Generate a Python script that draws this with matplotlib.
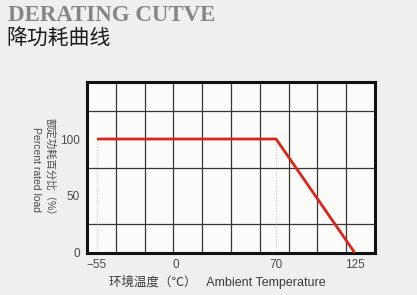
import numpy as np
import matplotlib
matplotlib.use("Agg")
import matplotlib.pyplot as plt

# derating curve data
temps = [-55, 70, 125]
load = [100, 100, 0]
x_ticks = [-55, 0, 70, 125]
y_ticks = [0, 50, 100]
x_lim = (-62, 139)
y_lim = (0, 150)

title_en = "DERATING CUTVE"
title_cn = "降功耗曲线"
ylabel_text = "额定功耗百分比（%）\nPercent rated load"
xlabel_text = "环境温度（℃）   Ambient Temperature"

mixed = ["Liberation Sans", "Noto Sans CJK SC", "DejaVu Sans"]

fig = plt.figure(figsize=(4.17, 2.95), dpi=100)
fig.patch.set_facecolor("#efefed")

ax = fig.add_axes([0.2086, 0.1424, 0.6906, 0.5796])
ax.set_facecolor("#fbfbfa")
ax.set_xlim(*x_lim)
ax.set_ylim(*y_lim)

# grid: 10 columns x 6 rows, not aligned with the tick labels
ax.set_xticks(np.linspace(x_lim[0], x_lim[1], 11), minor=True)
ax.set_yticks(np.linspace(y_lim[0], y_lim[1], 7), minor=True)
ax.grid(which="minor", color="#3b3433", lw=0.9)
ax.set_axisbelow(True)

ax.set_xticks(x_ticks)
ax.set_yticks(y_ticks)
ax.set_xticklabels(["\u221255", "0", "70", "125"])
ax.tick_params(which="both", length=0)
ax.tick_params(axis="both", labelsize=8.5, labelcolor="#4a4a4a")
ax.tick_params(axis="y", pad=5)
ax.tick_params(axis="x", pad=4)
for lab in ax.get_xticklabels() + ax.get_yticklabels():
    lab.set_family("Liberation Sans")

for s in ax.spines.values():
    s.set_linewidth(2.2)
    s.set_color("#111111")

# dotted guides
for t in (temps[0], temps[1]):
    ax.plot([t, t], [0, 100], ls=(0, (1, 1.5)), color="#c8c8c8", lw=0.8, zorder=2)

ax.plot(temps, load, color="#d8261c", lw=2.0, zorder=3, solid_capstyle="butt")

fig.text(0.018, 0.948, title_en, family="Liberation Serif", weight="bold",
         fontsize=16.5, color="#858585", va="center", ha="left")
fig.text(0.015, 0.868, title_cn, family="Noto Sans CJK SC", fontsize=15,
         color="#1a1a1a", va="center", ha="left")

fig.text(0.104, 0.425, ylabel_text, family=mixed, fontsize=7.5, color="#4a4a4a",
         rotation=270, va="center", ha="center", multialignment="center",
         linespacing=1.5)
fig.text(0.52, 0.045, xlabel_text, family=mixed, fontsize=9, color="#3a3a3a",
         va="center", ha="center")

fig.savefig("out.png", dpi=100, facecolor=fig.get_facecolor())
